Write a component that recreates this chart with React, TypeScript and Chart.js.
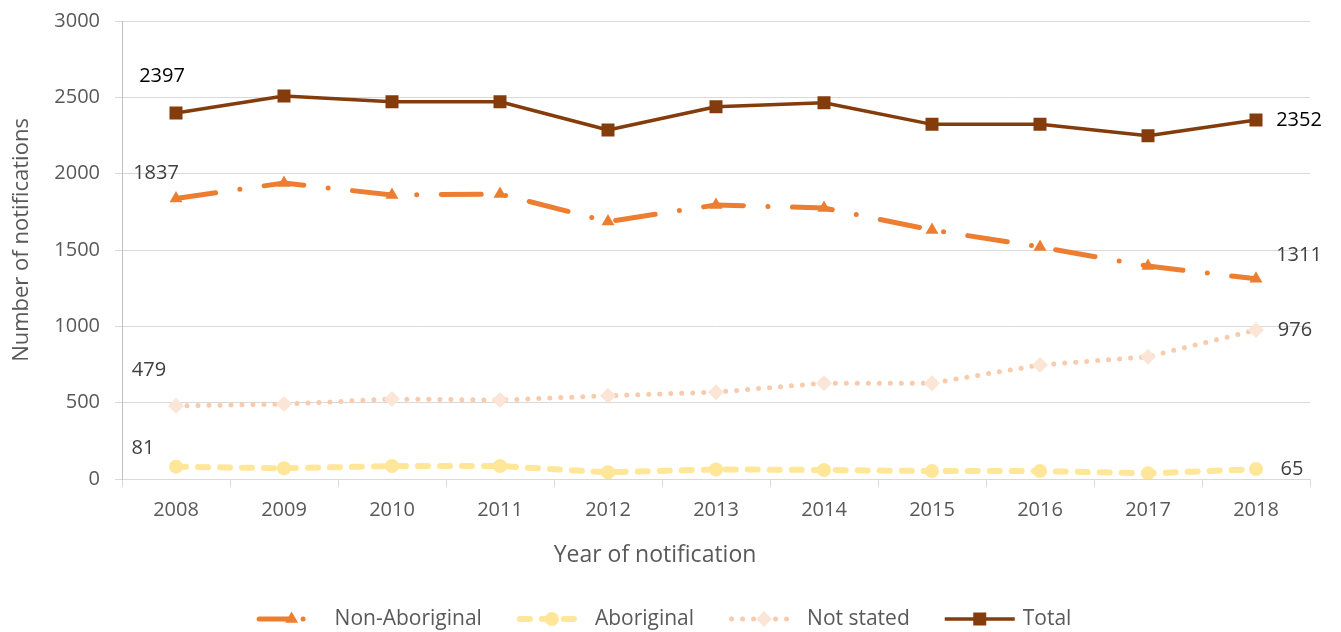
import React, { useEffect, useRef } from "react";
import { Chart, registerables } from "chart.js";

Chart.register(...registerables);

const years = ["2008", "2009", "2010", "2011", "2012", "2013", "2014", "2015", "2016", "2017", "2018"];
const nonAboriginal = [1837, 1939, 1860, 1867, 1686, 1795, 1775, 1631, 1520, 1395, 1311];
const aboriginal = [81, 70, 85, 85, 44, 63, 59, 52, 52, 37, 65];
const notStated = [479, 491, 524, 517, 546, 569, 628, 628, 747, 801, 976];
const total = [2397, 2509, 2471, 2471, 2286, 2438, 2465, 2323, 2323, 2249, 2352];
const seriesNames = ["Non-Aboriginal", "Aboriginal", "Not stated", "Total"];
const yMin = 0;
const yMax = 3000;
const yStep = 500;
const xTitle = "Year of notification";
const yTitle = "Number of notifications";

const FONT = "'Open Sans', 'Noto Sans', sans-serif";
const TEXT = "#595959";

type Style = {
  color: string;
  width: number;
  dash: number[];
  legendDash: number[];
  cap: CanvasLineCap;
  point: string;
  radius: number;
  pointColor: string;
  labelColor: string;
  firstOffset: [number, number];
  lastOffset: [number, number];
};

const styles: Style[] = [
  {
    color: "#ED7D31", width: 5, dash: [40, 24.5, 0, 24.5], legendDash: [30, 14, 0, 40], cap: "round",
    point: "triangle", radius: 7.5, pointColor: "#ED7D31", labelColor: "#404040",
    firstOffset: [-20, -25], lastOffset: [43, -24],
  },
  {
    color: "#FFE699", width: 6, dash: [10, 12], legendDash: [10, 12], cap: "round",
    point: "circle", radius: 7, pointColor: "#FFE699", labelColor: "#404040",
    firstOffset: [-33, -18], lastOffset: [36, 0],
  },
  {
    color: "#F8CBAD", width: 5, dash: [0, 11], legendDash: [0, 11], cap: "round",
    point: "rectRot", radius: 8, pointColor: "#FBE5D6", labelColor: "#404040",
    firstOffset: [-27, -36], lastOffset: [39, 0],
  },
  {
    color: "#843C0C", width: 3.5, dash: [], legendDash: [], cap: "butt",
    point: "rect", radius: 9.2, pointColor: "#843C0C", labelColor: "#000000",
    firstOffset: [-14, -37], lastOffset: [43, 0],
  },
];

const seriesData = [nonAboriginal, aboriginal, notStated, total];

function drawMarker(ctx: CanvasRenderingContext2D, kind: string, x: number, y: number, r: number, color: string) {
  ctx.save();
  ctx.setLineDash([]);
  ctx.fillStyle = color;
  ctx.beginPath();
  if (kind === "triangle") {
    for (let k = 0; k < 3; k++) {
      const a = (k * 2 * Math.PI) / 3;
      const px = x + Math.sin(a) * r;
      const py = y - Math.cos(a) * r;
      if (k === 0) ctx.moveTo(px, py);
      else ctx.lineTo(px, py);
    }
    ctx.closePath();
  } else if (kind === "circle") {
    ctx.arc(x, y, r, 0, Math.PI * 2);
  } else if (kind === "rectRot") {
    ctx.moveTo(x - r, y);
    ctx.lineTo(x, y - r);
    ctx.lineTo(x + r, y);
    ctx.lineTo(x, y + r);
    ctx.closePath();
  } else {
    const s = Math.SQRT1_2 * r;
    ctx.rect(x - s, y - s, 2 * s, 2 * s);
  }
  ctx.fill();
  ctx.restore();
}

const extrasPlugin = {
  id: "extras",
  afterDatasetsDraw(chart: any) {
    const ctx: CanvasRenderingContext2D = chart.ctx;
    ctx.save();
    ctx.font = `20px ${FONT}`;
    ctx.textAlign = "center";
    ctx.textBaseline = "middle";
    chart.data.datasets.forEach((ds: any, i: number) => {
      const meta = chart.getDatasetMeta(i);
      const st = styles[i];
      const pts = meta.data;
      const first = pts[0];
      const last = pts[pts.length - 1];
      ctx.fillStyle = st.labelColor;
      ctx.fillText(String(ds.data[0]), first.x + st.firstOffset[0], first.y + st.firstOffset[1]);
      ctx.fillText(String(ds.data[ds.data.length - 1]), last.x + st.lastOffset[0], last.y + st.lastOffset[1]);
    });
    ctx.restore();
  },
  afterDraw(chart: any) {
    const ctx: CanvasRenderingContext2D = chart.ctx;
    ctx.save();
    // axis titles
    ctx.fillStyle = TEXT;
    ctx.textAlign = "center";
    ctx.textBaseline = "middle";
    ctx.font = `23px ${FONT}`;
    ctx.fillText(xTitle, 655, 555);
    ctx.save();
    ctx.font = `22px ${FONT}`;
    ctx.translate(22, 240);
    ctx.rotate(-Math.PI / 2);
    ctx.fillText(yTitle, 0, 0);
    ctx.restore();

    // legend
    ctx.font = `21px ${FONT}`;
    const sampleW = 70;
    const textGap = 8;
    const itemGap = 35;
    const widths = seriesNames.map((n) => ctx.measureText(n).width);
    const totalW = widths.reduce((a, w) => a + sampleW + textGap + w, 0) + itemGap * (seriesNames.length - 1);
    let x = 664 - totalW / 2;
    const ly = 619;
    seriesNames.forEach((name, i) => {
      const st = styles[i];
      ctx.save();
      ctx.strokeStyle = st.color;
      ctx.lineWidth = st.width;
      ctx.lineCap = st.cap;
      ctx.setLineDash(st.legendDash);
      ctx.beginPath();
      ctx.moveTo(x + (st.cap === "round" ? st.width / 2 : 0), ly);
      ctx.lineTo(x + sampleW - (st.cap === "round" ? st.width / 2 : 0), ly);
      ctx.stroke();
      ctx.restore();
      drawMarker(ctx, st.point, x + sampleW / 2, ly, st.radius, st.pointColor);
      ctx.fillStyle = TEXT;
      ctx.textAlign = "left";
      ctx.textBaseline = "middle";
      ctx.fillText(name, x + sampleW + textGap, ly);
      x += sampleW + textGap + widths[i] + itemGap;
    });
    ctx.restore();
  },
};

export default function App() {
  const canvasRef = useRef<HTMLCanvasElement | null>(null);

  useEffect(() => {
    if (!canvasRef.current) return;
    const chart = new Chart(canvasRef.current, {
      type: "line",
      data: {
        labels: years,
        datasets: seriesNames.map((name, i) => {
          const st = styles[i];
          return {
            label: name,
            data: seriesData[i],
            borderColor: st.color,
            backgroundColor: st.pointColor,
            borderWidth: st.width,
            borderDash: st.dash,
            borderCapStyle: st.cap,
            borderJoinStyle: "round",
            tension: 0,
            fill: false,
            pointStyle: st.point,
            pointRadius: st.radius,
            pointBackgroundColor: st.pointColor,
            pointBorderColor: st.pointColor,
            pointBorderWidth: 0,
            pointHoverRadius: st.radius,
          } as any;
        }),
      },
      options: {
        responsive: false,
        animation: false,
        devicePixelRatio: 1,
        layout: { padding: { left: 0, top: 21, right: 31, bottom: 0 } },
        plugins: {
          legend: { display: false },
          tooltip: { enabled: false },
        },
        scales: {
          x: {
            type: "category",
            offset: true,
            grid: {
              offset: true,
              drawOnChartArea: false,
              drawTicks: true,
              tickLength: 8,
              color: "#d9d9d9",
            },
            border: { color: "#d9d9d9", width: 1 },
            ticks: { color: TEXT, font: { family: FONT, size: 20 }, padding: 11, maxRotation: 0 },
            afterFit: (scale: any) => {
              scale.height = 153;
              scale.paddingLeft = 0;
              scale.paddingRight = 0;
            },
          },
          y: {
            min: yMin,
            max: yMax,
            grid: { color: "#d9d9d9", drawTicks: true, tickLength: 7 },
            border: { color: "#bfbfbf", width: 1 },
            ticks: {
              stepSize: yStep,
              color: TEXT,
              font: { family: FONT, size: 20 },
              padding: 15,
              callback: (v: any) => String(v),
            },
            afterFit: (scale: any) => {
              scale.width = 122;
              scale.paddingTop = 0;
              scale.paddingBottom = 0;
            },
          },
        },
      },
      plugins: [extrasPlugin],
    });
    return () => chart.destroy();
  }, []);

  return (
    <div style={{ position: "absolute", left: 0, top: 0, width: 1341, height: 632, background: "#fff" }}>
      <canvas ref={canvasRef} width={1341} height={632} style={{ display: "block" }} />
    </div>
  );
}
